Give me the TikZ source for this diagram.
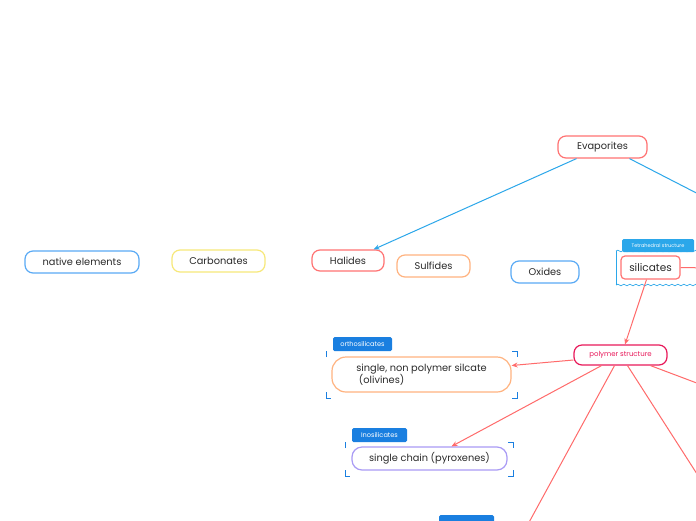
\documentclass[tikz,border=0pt]{standalone}
\usepackage{fontspec}
\setmainfont{Poppins}
\usetikzlibrary{arrows.meta,decorations.pathmorphing}
\definecolor{redb}{HTML}{FF7373}
\definecolor{blueline}{HTML}{2BA7EA}
\definecolor{blueb}{HTML}{5AAAF5}
\definecolor{orangeb}{HTML}{FFB380}
\definecolor{yellowb}{HTML}{F7E87A}
\definecolor{crimson}{HTML}{E8195A}
\definecolor{purpleb}{HTML}{A99BF5}
\definecolor{tabblue}{HTML}{1A7FE0}
\definecolor{tabcyan}{HTML}{2BA7EA}
\definecolor{txt}{HTML}{2A2A2A}
\definecolor{redline}{HTML}{FF6B6B}
\tikzset{
  topic/.style={draw, rounded corners=8pt, line width=1.2pt, align=center, inner sep=0pt, text=txt, font=\fontsize{9.8}{12}\selectfont, fill=white},
  tabbox/.style={fill=tabblue, rounded corners=1.5pt, text=white, inner sep=0pt, font=\fontsize{6.6}{8}\selectfont},
  bl/.style={blueline, line width=1pt},
  rl/.style={redline, line width=1pt},
  tip/.style={-{Stealth[length=6pt,width=5pt]}},
  brk/.style={tabblue, line width=0.9pt},
  wavy/.style={blueline, line width=0.7pt, decorate, decoration={snake, amplitude=0.8pt, segment length=6pt}},
}
\begin{document}
\begin{tikzpicture}[x=1pt,y=-1pt]
\useasboundingbox (0,0) rectangle (696,520);
\clip (0,0) rectangle (696,520);
\fill[white] (0,0) rectangle (696,520);

% wavy frame around silicates
\draw[blueline, line width=0.8pt] (616,251) -- (616,285);
\draw[wavy] (616,251) -- (704,251);
\draw[wavy] (616,285) -- (704,285);

% nodes
\node[topic, draw=redb, minimum width=89pt, minimum height=22pt] (evap) at (602.5,147) {Evaporites};
\node[topic, draw=redb, minimum width=72pt, minimum height=21pt] (halides) at (348,260.5) {Halides};
\node[topic, draw=orangeb, minimum width=73pt, minimum height=22pt] (sulfides) at (433.5,266) {Sulfides};
\node[topic, draw=blueb, minimum width=68pt, minimum height=22pt] (oxides) at (545,272) {Oxides};
\node[topic, draw=blueb, minimum width=114pt, minimum height=22pt] (native) at (82,262) {native elements};
\node[topic, draw=yellowb, minimum width=93pt, minimum height=22pt] (carb) at (218.5,261) {Carbonates};
\node[topic, draw=redb, rounded corners=4pt, minimum width=59pt, minimum height=23pt, font=\fontsize{10.5}{12}\selectfont] (sil) at (650.5,267.5) {silicates};
\node[tabbox, fill=tabcyan, minimum width=72pt, minimum height=13pt, font=\fontsize{5}{6}\selectfont] (tetra) at (658,245.5) {Tetrahedral structure};
\node[topic, draw=crimson, text=crimson, minimum width=93pt, minimum height=20pt, font=\fontsize{7}{8}\selectfont] (poly) at (620.5,355) {polymer structure};
\node[topic, draw=orangeb, rounded corners=14pt, minimum width=179pt, minimum height=35pt, align=left] (ortho) at (421.5,374.5) {single, non polymer silcate\\\ (olivines)};
\node[topic, draw=purpleb, rounded corners=10pt, minimum width=155pt, minimum height=23pt] (chain) at (429.5,458.5) {single chain (pyroxenes)};
\node[tabbox, minimum width=59pt, minimum height=14pt] (orthotab) at (362.5,344) {orthosilicates};
\node[tabbox, minimum width=55pt, minimum height=14pt] (inotab) at (379.5,435) {Inosilicates};
\node[tabbox, minimum width=55pt, minimum height=14pt] (bottab) at (466.5,522) {};

% corner brackets
\foreach \xa/\ya/\xb/\yb in {326/351/517/398, 345/442/513/476} {
  \draw[brk] (\xa,\ya+6) -- (\xa,\ya);
  \draw[brk] (\xb-5,\ya) -- (\xb,\ya) -- (\xb,\ya+6);
  \draw[brk] (\xa,\yb-6) -- (\xa,\yb) -- (\xa+5,\yb);
  \draw[brk] (\xb-5,\yb) -- (\xb,\yb) -- (\xb,\yb-6);
}

% free ends
\coordinate (eR) at (710,200);
\coordinate (sR) at (710,268);
\coordinate (pB) at (527,526);
\coordinate (pR1) at (706,488);
\coordinate (pR2) at (710,388);

% connectors
\draw[bl, tip] ([xshift=-26pt]evap.south) -- ([xshift=-11pt]halides.north east);
\draw[bl] ([xshift=27pt]evap.south) -- (eR);
\draw[rl] (sil.east) -- (sR);
\draw[rl, tip] ([xshift=-4pt]sil.south) -- ([xshift=4.5pt]poly.north);
\draw[rl, tip] ([yshift=-5pt]poly.west) -- ([yshift=9pt]ortho.east);
\draw[rl, tip] ([xshift=-19pt]poly.south) -- ([xshift=22pt]chain.north);
\draw[rl] ([xshift=-6pt]poly.south) -- (pB);
\draw[rl] ([xshift=7pt]poly.south) -- (pR1);
\draw[rl] ([xshift=30pt]poly.south) -- (pR2);
\end{tikzpicture}
\end{document}
